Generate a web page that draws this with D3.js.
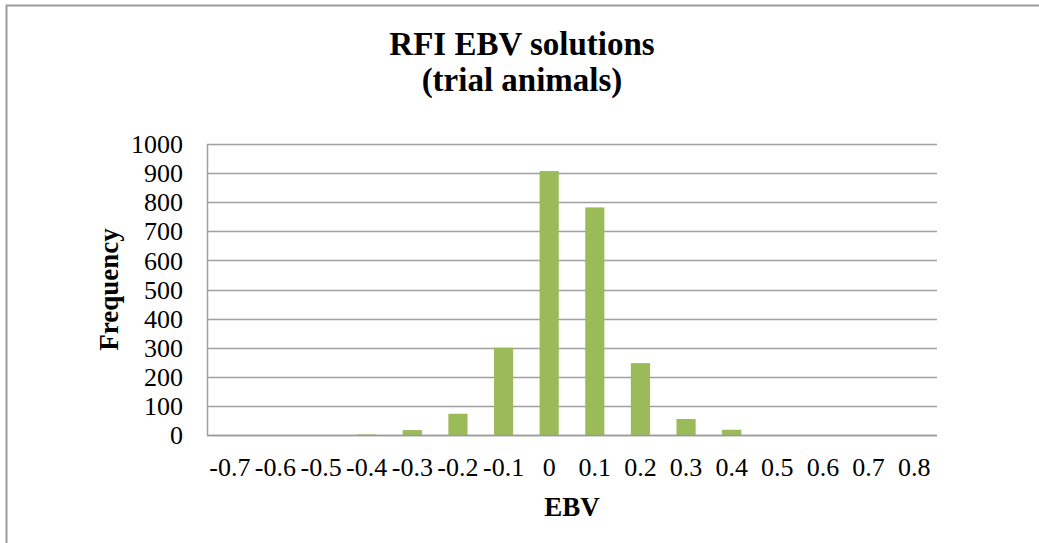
<!DOCTYPE html>
<html>
<head>
<meta charset="utf-8">
<script src="https://cdn.jsdelivr.net/npm/d3@7"></script>
<style>
  body { margin: 0; background: #fff; }
  svg { display: block; font-family: "Liberation Serif", "Times New Roman", serif; }
</style>
</head>
<body>
<div id="chart"></div>
<script>
// histogram of EBV solutions
var categories = ['-0.7', '-0.6', '-0.5', '-0.4', '-0.3', '-0.2', '-0.1', '0', '0.1', '0.2', '0.3', '0.4', '0.5', '0.6', '0.7', '0.8'];
var frequency = [0, 0, 0, 2, 17, 73, 300, 907, 782, 247, 55, 18, 0, 0, 0, 0];
var yTicks = [0, 100, 200, 300, 400, 500, 600, 700, 800, 900, 1000];

var width = 1039, height = 543;
var margin = {left: 207, right: 102, top: 144, bottom: 108};

var svg = d3.select('#chart').append('svg')
  .attr('width', width)
  .attr('height', height);

// outer chart border (runs off the right and bottom edge)
svg.append('rect')
  .attr('x', 6.5)
  .attr('y', 5.5)
  .attr('width', width + 20)
  .attr('height', height + 20)
  .attr('fill', 'none')
  .attr('stroke', '#9a9a9a')
  .attr('stroke-width', 2);

var x = d3.scaleBand()
  .domain(categories)
  .range([margin.left, width - margin.right])
  .paddingInner(0.58)
  .paddingOuter(0.29);

var y = d3.scaleLinear()
  .domain([0, 1000])
  .range([height - margin.bottom, margin.top]);

// gridlines
svg.append('g')
  .selectAll('line')
  .data(yTicks)
  .enter().append('line')
  .attr('x1', margin.left)
  .attr('x2', width - margin.right)
  .attr('y1', function(d) { return Math.round(y(d)) + 0.5; })
  .attr('y2', function(d) { return Math.round(y(d)) + 0.5; })
  .attr('stroke', '#a0a0a0')
  .attr('stroke-width', 1.5);

// left axis line
svg.append('line')
  .attr('x1', margin.left + 0.5)
  .attr('x2', margin.left + 0.5)
  .attr('y1', y(1000))
  .attr('y2', y(0))
  .attr('stroke', '#a0a0a0')
  .attr('stroke-width', 1.5);

// bars
svg.append('g')
  .selectAll('rect')
  .data(frequency)
  .enter().append('rect')
  .attr('x', function(d, i) { return x(categories[i]); })
  .attr('width', x.bandwidth())
  .attr('y', function(d) { return y(d); })
  .attr('height', function(d) { return y(0) - y(d); })
  .attr('fill', '#9BBB59');

// baseline drawn over the bars
svg.append('line')
  .attr('x1', margin.left)
  .attr('x2', width - margin.right)
  .attr('y1', Math.round(y(0)) + 0.5)
  .attr('y2', Math.round(y(0)) + 0.5)
  .attr('stroke', '#9a9a9a')
  .attr('stroke-width', 1.5);

// y tick labels
svg.append('g')
  .selectAll('text')
  .data(yTicks)
  .enter().append('text')
  .attr('x', margin.left - 24)
  .attr('y', function(d) { return y(d); })
  .attr('dy', '0.35em')
  .attr('text-anchor', 'end')
  .attr('font-size', 26)
  .text(function(d) { return d; });

// x tick labels
svg.append('g')
  .selectAll('text')
  .data(categories)
  .enter().append('text')
  .attr('x', function(d) { return x(d) + x.bandwidth() / 2; })
  .attr('y', height - margin.bottom + 41)
  .attr('text-anchor', 'middle')
  .attr('font-size', 26)
  .text(function(d) { return d; });

// titles
svg.append('text')
  .attr('x', 522)
  .attr('y', 55)
  .attr('text-anchor', 'middle')
  .attr('font-size', 33)
  .attr('font-weight', 'bold')
  .text('RFI EBV solutions');

svg.append('text')
  .attr('x', 522)
  .attr('y', 91)
  .attr('text-anchor', 'middle')
  .attr('font-size', 33)
  .attr('font-weight', 'bold')
  .text('(trial animals)');

svg.append('text')
  .attr('x', (margin.left + width - margin.right) / 2)
  .attr('y', 516)
  .attr('text-anchor', 'middle')
  .attr('font-size', 27)
  .attr('font-weight', 'bold')
  .text('EBV');

svg.append('text')
  .attr('transform', 'translate(118,' + (margin.top + (height - margin.bottom - margin.top) / 2) + ') rotate(-90)')
  .attr('text-anchor', 'middle')
  .attr('font-size', 27)
  .attr('font-weight', 'bold')
  .text('Frequency');
</script>
</body>
</html>
